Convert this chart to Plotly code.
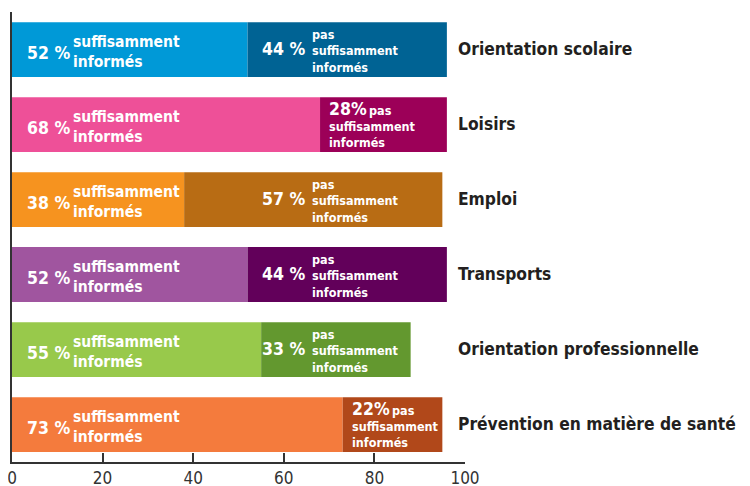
import plotly.graph_objects as go

categories = [
    "Orientation scolaire",
    "Loisirs",
    "Emploi",
    "Transports",
    "Orientation professionnelle",
    "Prévention en matière de santé",
]
suffisants = [52, 68, 38, 52, 55, 73]
pas_suffisants = [44, 28, 57, 44, 33, 22]
couleurs_claires = ["#0099D7", "#EE5098", "#F6931F", "#A0559F", "#98C94B", "#F47B3D"]
couleurs_foncees = ["#006394", "#9C0058", "#B86C14", "#62005A", "#63982F", "#B1481A"]

FONT = "DejaVu Sans Condensed"
COLONNE_PAS = 65  # colonne des libellés "pas suffisamment informés"

fig = go.Figure()

fig.add_trace(
    go.Bar(
        name="suffisamment informés",
        y=categories,
        x=suffisants,
        orientation="h",
        marker=dict(color=couleurs_claires, line_width=0),
    )
)
fig.add_trace(
    go.Bar(
        name="pas suffisamment informés",
        y=categories,
        x=pas_suffisants,
        base=suffisants,
        orientation="h",
        marker=dict(color=couleurs_foncees, line_width=0),
    )
)

blanc = dict(family=FONT, color="white", weight="bold")

for cat, oui, non in zip(categories, suffisants, pas_suffisants):
    # partie claire
    fig.add_annotation(
        x=0, y=cat, xref="x", yref="y", text=f"{oui} %",
        xanchor="left", yanchor="middle", xshift=13, yshift=-3,
        showarrow=False, font=dict(size=17.5, **blanc),
    )
    fig.add_annotation(
        x=0, y=cat, xref="x", yref="y", text="suffisamment<br>informés",
        xanchor="left", yanchor="middle", align="left", xshift=59, yshift=-2,
        showarrow=False, font=dict(size=15.5, **blanc),
    )
    # partie foncée
    if non >= 30:
        fig.add_annotation(
            x=COLONNE_PAS, y=cat, xref="x", yref="y", text=f"{non} %",
            xanchor="right", yanchor="middle", xshift=1, yshift=1,
            showarrow=False, font=dict(size=17.5, **blanc),
        )
        fig.add_annotation(
            x=COLONNE_PAS, y=cat, xref="x", yref="y",
            text="pas<br>suffisamment<br>informés",
            xanchor="left", yanchor="middle", align="left", xshift=4, yshift=-1,
            showarrow=False, font=dict(size=12.5, **blanc),
        )
    else:
        fig.add_annotation(
            x=oui, y=cat, xref="x", yref="y", text=f"{non}%",
            xanchor="left", yanchor="middle", xshift=7, yshift=16,
            showarrow=False, font=dict(size=17.5, **blanc),
        )
        fig.add_annotation(
            x=oui, y=cat, xref="x", yref="y", text="pas",
            xanchor="left", yanchor="middle", xshift=47, yshift=14,
            showarrow=False, font=dict(size=12.5, **blanc),
        )
        fig.add_annotation(
            x=oui, y=cat, xref="x", yref="y", text="suffisamment<br>informés",
            xanchor="left", yanchor="middle", align="left", xshift=7, yshift=-10,
            showarrow=False, font=dict(size=12.5, **blanc),
        )
    # libellé de la catégorie
    fig.add_annotation(
        x=1, y=cat, xref="paper", yref="y", text=cat,
        xanchor="left", yanchor="middle", xshift=-9, yshift=1,
        showarrow=False,
        font=dict(family=FONT, size=17.3, color="#231F20", weight="bold"),
    )

# la page ajoute 8 px de marge autour de la figure
fig.update_layout(
    barmode="overlay",
    bargap=0.27,
    showlegend=False,
    width=742,
    height=478,
    margin=dict(l=4, r=285, t=4, b=24),
    plot_bgcolor="white",
    paper_bgcolor="white",
    font=dict(family=FONT, color="#333333"),
    xaxis=dict(
        range=[0, 100],
        tickvals=[0, 20, 40, 60, 80, 100],
        showgrid=False,
        zeroline=False,
        showline=True,
        linecolor="#333333",
        linewidth=2,
        ticks="inside",
        ticklen=9,
        tickwidth=2,
        tickcolor="#333333",
        tickfont=dict(size=17, color="#333333"),
        ticklabeloverflow="allow",
        automargin=False,
        fixedrange=True,
    ),
    yaxis=dict(
        categoryorder="array",
        categoryarray=categories[::-1],
        showgrid=False,
        zeroline=False,
        showline=True,
        linecolor="#333333",
        linewidth=2,
        showticklabels=False,
        ticks="",
        automargin=False,
        fixedrange=True,
    ),
)

fig.write_html("out.html")
